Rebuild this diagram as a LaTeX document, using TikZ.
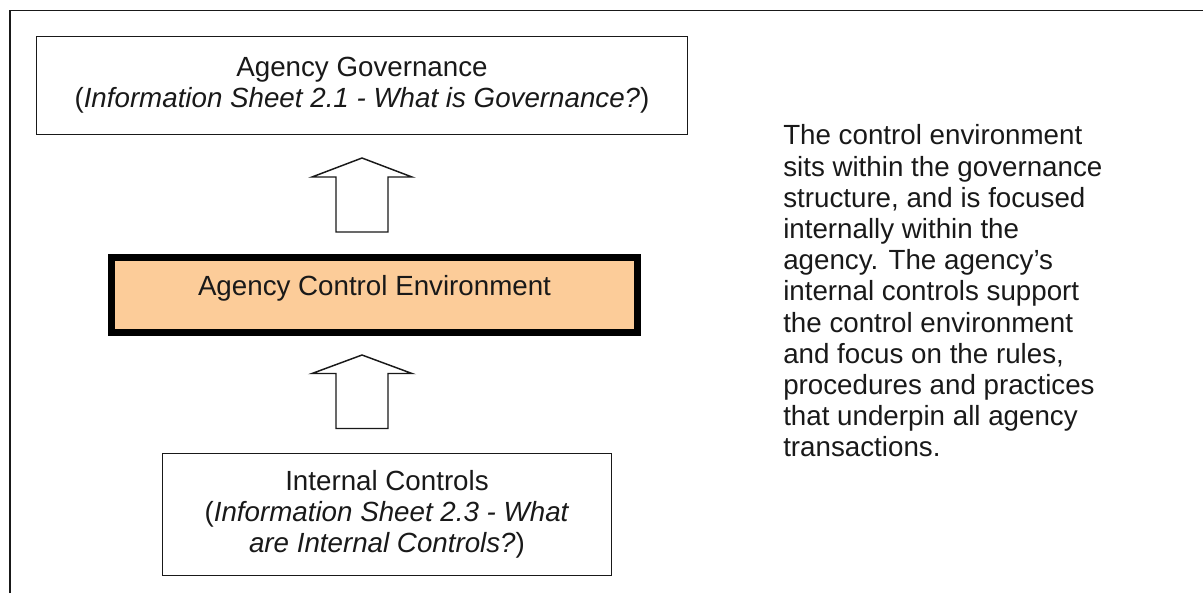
\documentclass[tikz,border=0pt]{standalone}
\usepackage{fontspec}
\setmainfont{Liberation Sans}
\usetikzlibrary{calc}
\definecolor{peach}{RGB}{252,204,153}
\definecolor{ink}{RGB}{25,25,25}
\begin{document}
\begin{tikzpicture}[x=0.75pt,y=-0.75pt,
  every node/.style={font=\fontsize{20.8}{23.4}\selectfont, text=ink},
  infobox/.style={draw=ink, line width=1.1pt, fill=white, align=center, inner sep=0pt},
  corebox/.style={draw=black, line width=5.25pt, fill=peach, align=center, inner sep=0pt},
  blockarrow/.style={draw=ink, line width=1.1pt, fill=white, line join=miter},
  frameline/.style={draw=ink, line width=1.1pt}]
\useasboundingbox (0,0) rectangle (1203,593);
% outer frame (top and left only)
\draw[frameline] (10,593) -- (10,10.5) -- (1203,10.5);
% boxes
\node[infobox, minimum width=651*0.75pt, minimum height=98*0.75pt] (gov) at (362,85.5)
  {Agency Governance\\(\textit{Information Sheet 2.1 - What is Governance?})};
\node[corebox, minimum width=526*0.75pt, minimum height=75*0.75pt, text depth=13.5pt] (env) at (374.5,294.5)
  {Agency Control Environment};
\node[infobox, minimum width=449*0.75pt, minimum height=122*0.75pt] (ic) at (387,514.5)
  {Internal Controls\\(\textit{Information Sheet 2.3 - What}\\\textit{are Internal Controls?})};
% block arrows
\coordinate (a1) at (362,158);
\coordinate (a2) at (362,355);
\draw[blockarrow] ($(a1)+(-26,74)$) -- ++(0,-55) -- ++(-24,0) -- (a1) -- ++(50,19) -- ++(-24,0) -- ++(0,55) -- cycle;
\draw[blockarrow] ($(a2)+(-26,73.5)$) -- ++(0,-55) -- ++(-24,0) -- (a2) -- ++(50,18.5) -- ++(-24,0) -- ++(0,55) -- cycle;
% text column
\node[anchor=north west, align=left, inner sep=0pt] (note) at (783,124.5)
  {The control environment\\
   sits within the governance\\
   structure, and is focused\\
   internally within the\\
   agency. The agency’s\\
   internal controls support\\
   the control environment\\
   and focus on the rules,\\
   procedures and practices\\
   that underpin all agency\\
   transactions.};
\end{tikzpicture}
\end{document}
